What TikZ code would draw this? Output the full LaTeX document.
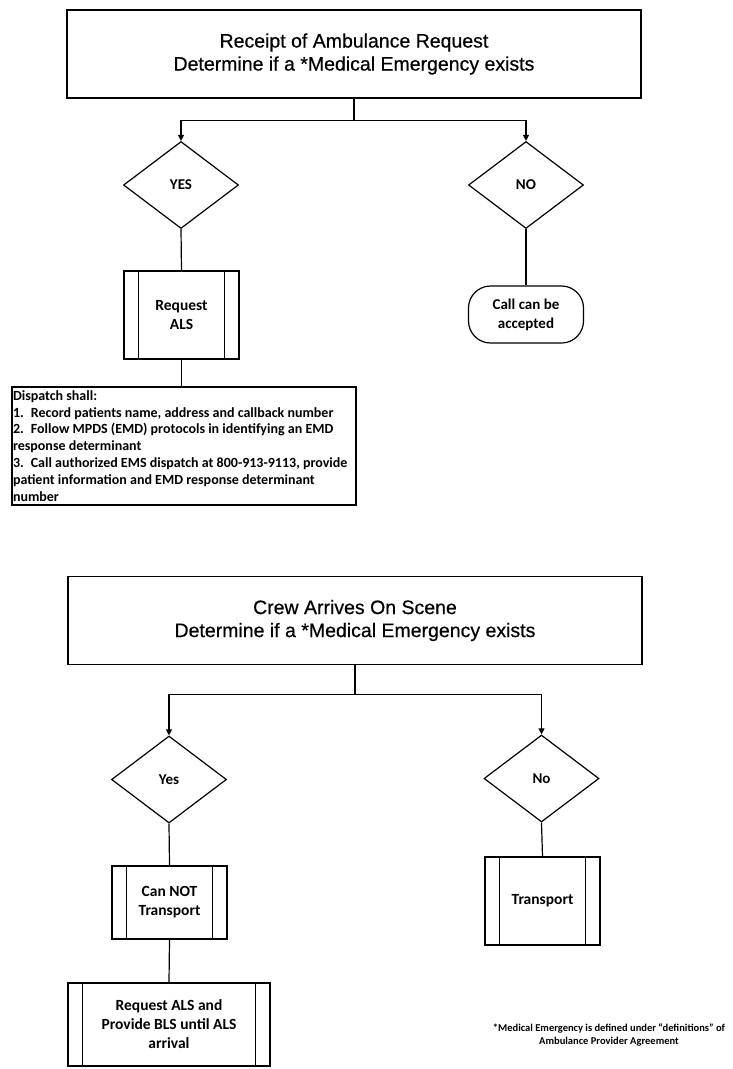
\documentclass[tikz,border=0pt]{standalone}
\usepackage{fontspec}
\setmainfont{Liberation Sans}
\newfontfamily\headfont[FakeBold=0.5]{Liberation Sans}
\newfontfamily\calfont{Carlito}
\usetikzlibrary{shapes.geometric,arrows.meta}
\begin{document}
\begin{tikzpicture}[x=1pt,y=-1pt,line width=1.2pt,
  headbox/.style={draw, minimum width=574pt, minimum height=88pt, inner sep=0pt, align=center,
    font=\headfont\fontsize{19.5}{23}\selectfont},
  decision/.style={draw, diamond, minimum width=115pt, minimum height=87pt, inner sep=0pt,
    font=\calfont\bfseries\fontsize{15}{18}\selectfont},
  procbox/.style={draw, minimum width=115pt, inner sep=0pt, align=center,
    font=\calfont\bfseries\fontsize{15.5}{19}\selectfont,
    path picture={
      \draw ([xshift=14.5pt]path picture bounding box.north west) -- ([xshift=14.5pt]path picture bounding box.south west);
      \draw ([xshift=-14.5pt]path picture bounding box.north east) -- ([xshift=-14.5pt]path picture bounding box.south east);}},
  termbox/.style={draw, rounded corners=22pt, minimum width=115pt, minimum height=57pt, inner sep=0pt, align=center,
    font=\calfont\bfseries\fontsize{15}{19}\selectfont},
  arr/.style={-{Triangle[length=6pt,width=6pt]}}
]
\useasboundingbox (0,0) rectangle (733,1069);
\fill[white] (0,0) rectangle (733,1069);

% ---------- upper chart ----------
\node[headbox] (top1) at (354,54) {Receipt of Ambulance Request\\Determine if a *Medical Emergency exists};
\node[decision] (yes1) at (181,185) {YES};
\node[decision] (no1) at (526,185) {NO};
\node[procbox, minimum height=88pt] (req1) at (181.5,315) {Request\\ALS};
\node[termbox] (call) at (526,314.5) {Call can be\\accepted};
\node[draw, minimum width=344pt, minimum height=118pt, inner sep=0pt] (disp) at (184,446) {};
\node[anchor=north west, align=left, inner sep=0pt,
  font=\calfont\bfseries\fontsize{14}{16.8}\selectfont] (disptext) at ([xshift=1pt,yshift=-3.5pt]disp.north west)
  {Dispatch shall:\\
   1.\enspace Record patients name, address and callback number\\
   2.\enspace Follow MPDS (EMD) protocols in identifying an EMD\\
   response determinant\\
   3.\enspace Call authorized EMS dispatch at 800-913-9113, provide\\
   patient information and EMD response determinant\\
   number};

\draw (top1.south) -- ++(0,22) coordinate (br1);
\draw[arr] (br1) -| (yes1.north);
\draw[arr] (br1) -| (no1.north);
\draw (yes1.south) -- (req1.north);
\draw (no1.south) -- (call.north);
\draw (req1.south) -- (req1.south |- disp.north);

% ---------- lower chart ----------
\node[headbox] (top2) at (355,620.5) {Crew Arrives On Scene\\Determine if a *Medical Emergency exists};
\node[decision] (yes2) at (169,779.5) {Yes};
\node[decision] (no2) at (541.5,778.5) {No};
\node[procbox, minimum height=73pt] (cannot) at (169.5,902.5) {Can NOT\\Transport};
\node[procbox, minimum height=88pt] (transport) at (542.5,901) {Transport};
\node[procbox, minimum width=202pt, minimum height=83pt] (reqals2) at (169,1024.5)
  {Request ALS and\\Provide BLS until ALS\\arrival};
\node[align=center, font=\calfont\bfseries\fontsize{10.5}{12.5}\selectfont] (note) at (609,1035)
  {*Medical Emergency is defined under “definitions” of\\Ambulance Provider Agreement};

\draw (top2.south) -- ++(0,29) coordinate (br2);
\draw[arr] (br2) -| (yes2.north);
\draw[arr] (br2) -| (no2.north);
\draw (yes2.south) -- (cannot.north);
\draw (no2.south) -- (transport.north);
\draw (cannot.south) -- (reqals2.north);
\end{tikzpicture}
\end{document}
